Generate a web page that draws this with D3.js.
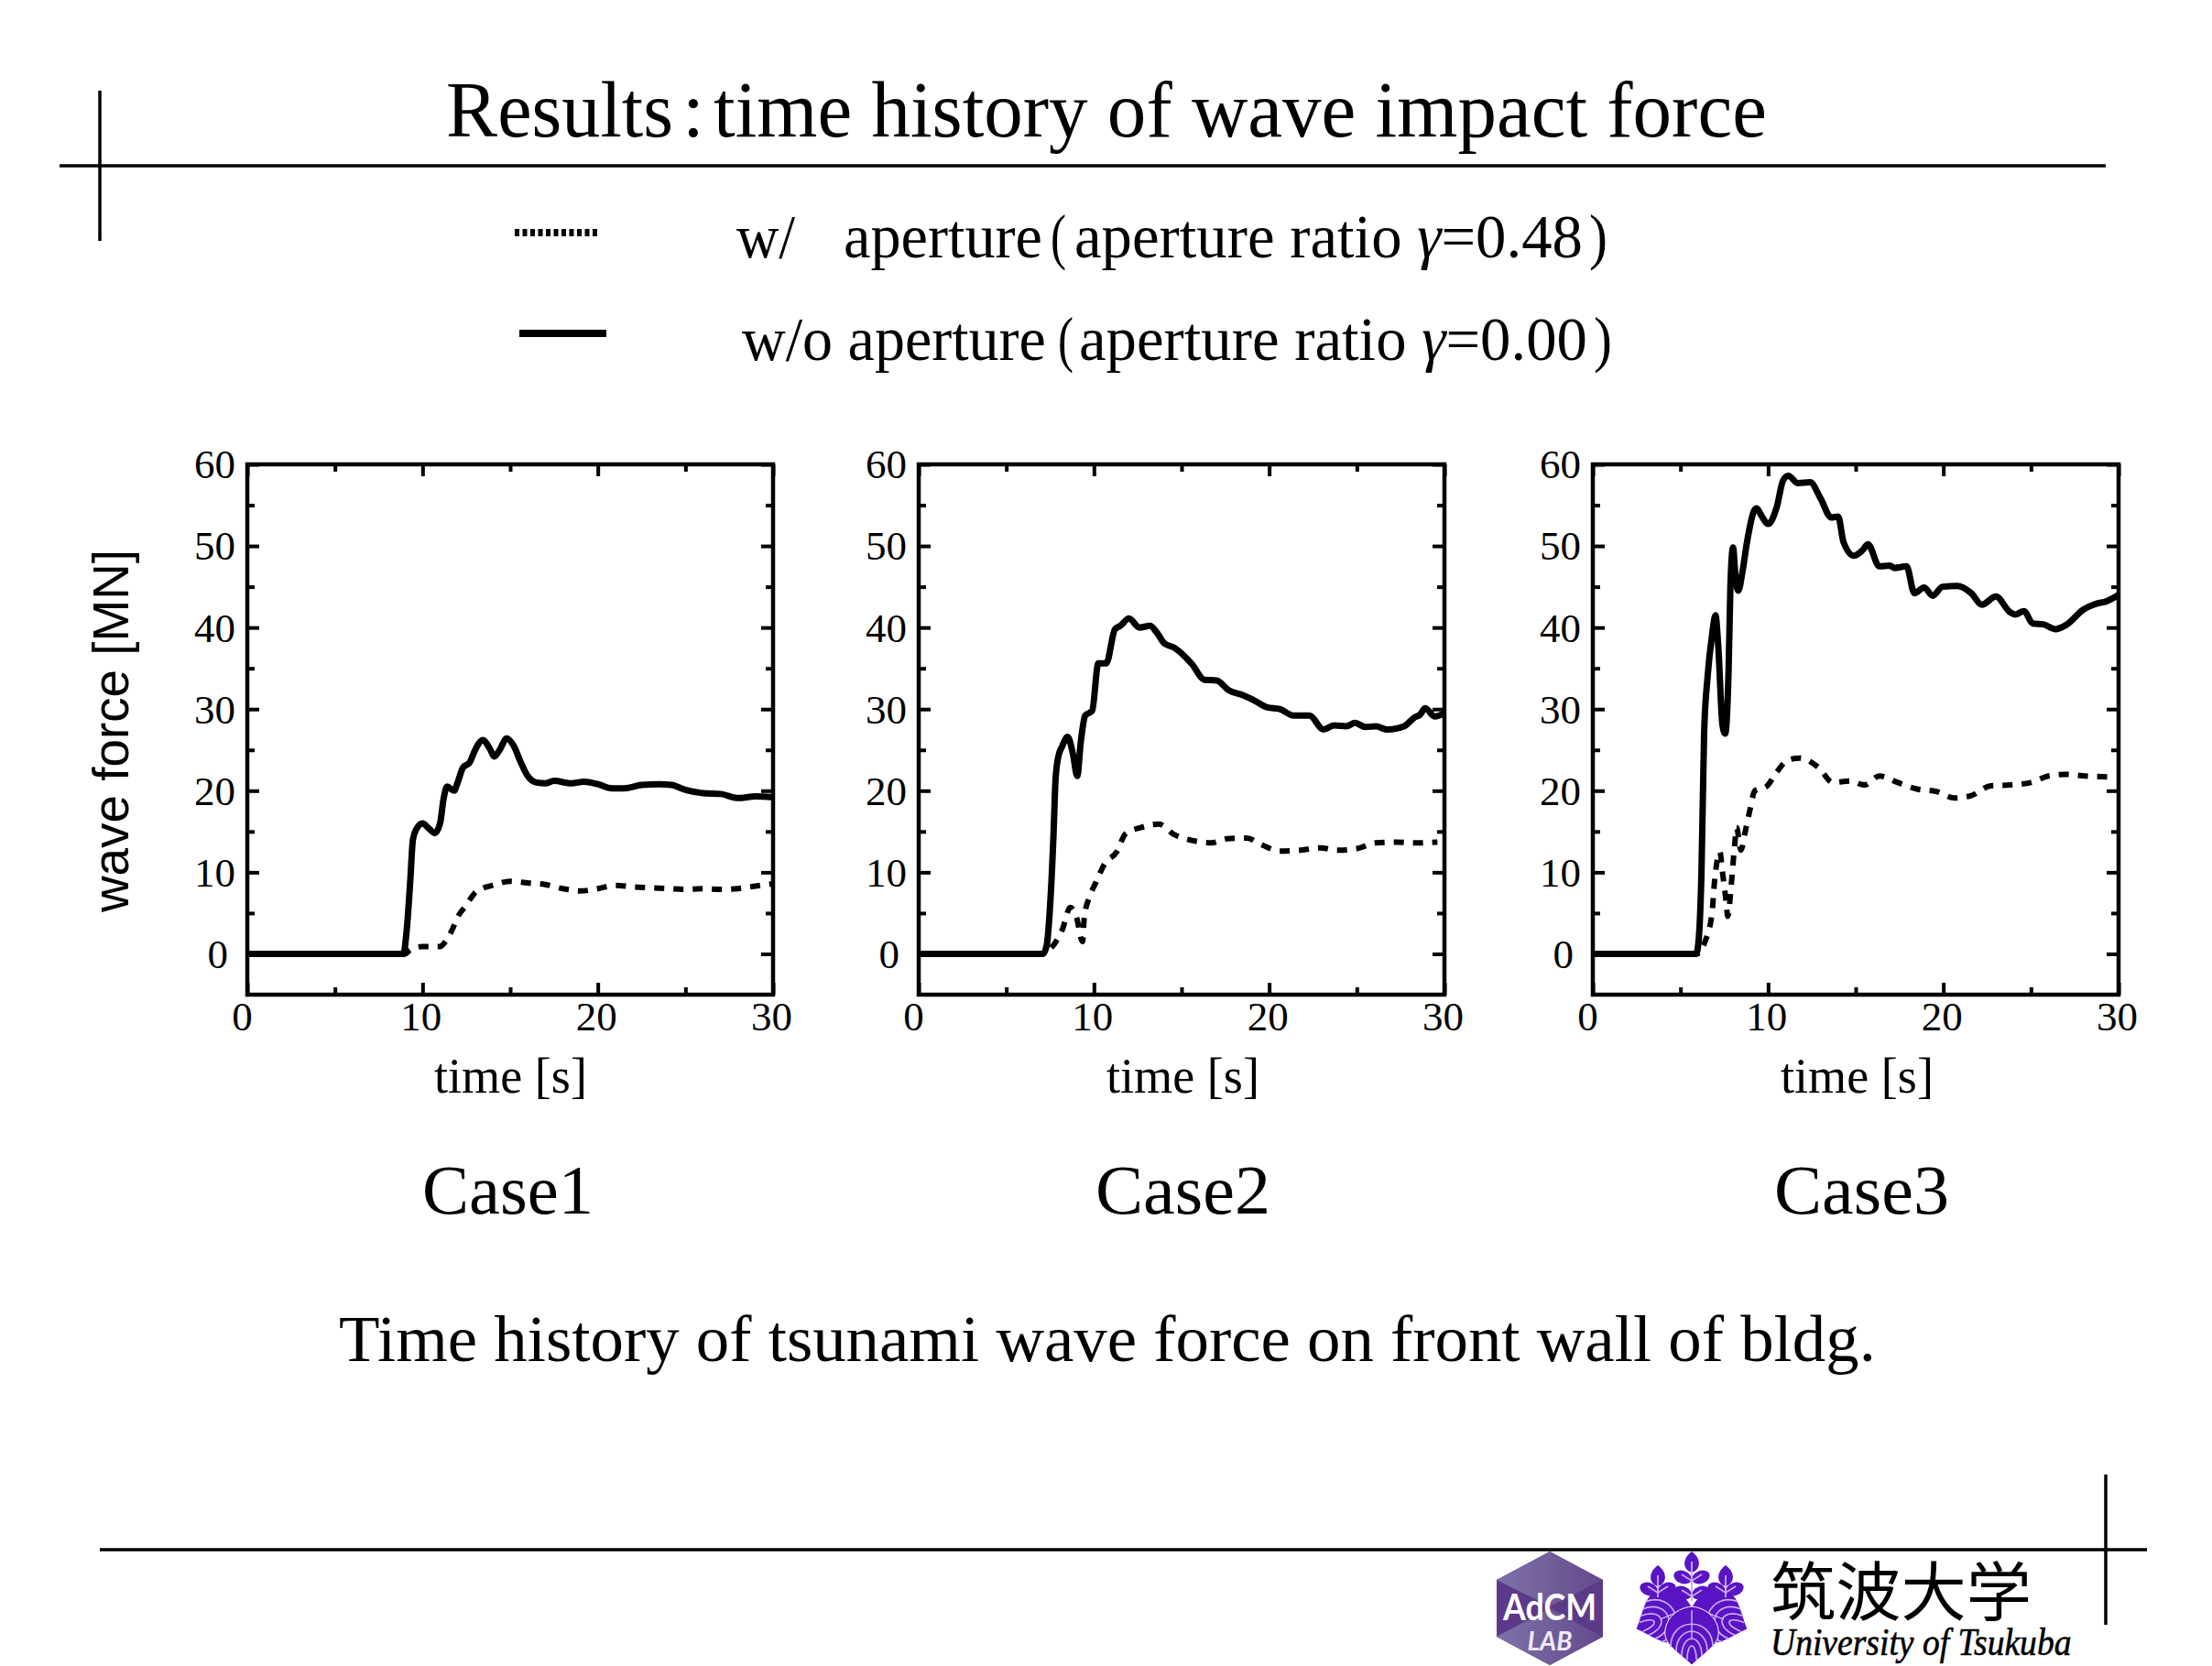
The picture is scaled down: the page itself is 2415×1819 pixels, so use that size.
<!DOCTYPE html>
<html><head><meta charset="utf-8">
<script src="https://cdn.jsdelivr.net/npm/d3@7/dist/d3.min.js"></script>
<style>html,body{margin:0;background:#fff}svg{display:block}</style>
</head><body><svg id="c" width="2415" height="1819"></svg>
<script>
const captionText = "Time history of tsunami wave force on front wall of bldg.";
const yLabel = "wave force [MN]";
const xLabel = "time [s]";
const caseNames = ["Case1","Case2","Case3"];
const xMajor = [0,10,20,30], xMinor = [5,15,25];
const yMajor = [0,10,20,30,40,50,60], yMinor = [5,15,25,35,45,55];

const case1Solid = [[0,0],[8.9,0],[9.1,3],[9.3,9],[9.45,14],[9.65,15.3],[10,16],[10.3,15.5],[10.7,14.8],[11,16],[11.2,19],[11.4,20.5],[11.8,20],[12,21],[12.3,22.8],[12.7,23.5],[13,25],[13.45,26.2],[13.8,25.3],[14.1,24.2],[14.4,25],[14.8,26.4],[15.2,25.5],[15.6,23.5],[16,21.8],[16.5,21],[17,20.9],[17.5,21.2],[18.5,20.9],[19.2,21.1],[20,20.8],[20.8,20.3],[21.5,20.3],[22.5,20.7],[23.5,20.8],[24.2,20.7],[25,20.1],[26,19.7],[27,19.6],[28,19.1],[29,19.3],[30,19.2]];
const case1Dashed = [[0,0],[9,0],[9.3,0.5],[10,0.9],[11,0.9],[11.3,1.5],[11.7,3],[12,4.5],[12.5,6],[13,7.5],[13.5,8.1],[14,8.4],[15,8.9],[16,8.7],[17,8.5],[18,8],[19,7.7],[20,8],[21,8.4],[22,8.2],[23,8.1],[24,8],[25,7.9],[26,8],[27,7.9],[28,8],[29,8.3],[30,8.6]];
const case2Solid = [[0,0],[7.1,0],[7.3,1],[7.5,6],[7.7,15],[7.8,21],[7.95,24],[8.2,25.5],[8.5,26.6],[8.8,24.5],[9.05,21.8],[9.25,26],[9.5,29.2],[9.9,29.8],[10.25,35.6],[10.7,35.6],[11.2,39.8],[11.5,40.2],[12,41.1],[12.6,40],[13.2,40.2],[13.55,39.5],[14,38.1],[14.6,37.5],[15.6,35.5],[16.3,33.6],[17,33.5],[17.7,32.3],[18.5,31.7],[19.2,31],[19.9,30.2],[20.6,30],[21.4,29.2],[22.3,29.2],[23.1,27.5],[23.7,28],[24.4,27.9],[24.9,28.3],[25.5,27.8],[26.1,27.9],[26.7,27.5],[27.7,27.9],[28.3,29],[28.6,29.3],[28.9,30.1],[29.45,29.1],[30,29.5]];
const case2Dashed = [[0,0],[7,0],[7.5,0.6],[8.2,3],[8.65,5.7],[9,4.5],[9.35,1.5],[9.45,4.5],[9.75,7],[10.1,8.7],[10.6,11],[11.3,12.5],[11.8,14.7],[12.7,15.5],[13.7,15.9],[14.6,14.6],[15.6,13.9],[16.7,13.6],[17.6,14.1],[18.7,14.2],[19.65,13.3],[20.6,12.6],[21.8,12.7],[22.9,13],[23.9,12.7],[25,12.9],[26.1,13.6],[27.2,13.7],[28.3,13.6],[29.6,13.7]];
const case3Solid = [[0,0],[5.9,0],[6.05,2],[6.2,10],[6.35,27],[6.55,34],[6.8,39],[7,41.5],[7.15,38],[7.4,28],[7.55,27],[7.75,35],[7.85,45],[8,49.8],[8.15,46],[8.3,44.5],[8.55,47],[8.8,50.5],[9.2,54.3],[9.35,54.6],[9.65,53.6],[10,52.7],[10.5,54.8],[10.85,58],[11.15,58.6],[11.7,57.7],[12.4,57.8],[13,55.8],[13.6,53.5],[14,53.6],[14.3,50.5],[14.9,48.8],[15.4,49.5],[15.7,50.2],[16.35,47.5],[16.95,47.6],[17.2,47.3],[17.9,47.5],[18.35,44.2],[18.9,44.9],[19.4,43.9],[19.95,45],[20.8,45.1],[21.6,44.2],[22.2,42.8],[23,43.8],[23.8,41.9],[24.1,41.6],[24.6,42],[25.1,40.5],[25.7,40.4],[26.4,39.8],[27,40.3],[28,42.2],[28.7,42.9],[29.3,43.2],[30,44]];
const case3Dashed = [[0,0],[5.95,0],[6.4,1.5],[6.8,5],[6.95,9],[7.1,11.5],[7.25,12.5],[7.4,10],[7.6,6.5],[7.7,4.6],[7.9,8.5],[8.1,13.5],[8.2,15.5],[8.45,12.7],[8.7,15],[8.95,17.5],[9.25,20],[9.9,20.5],[10.5,22.3],[11.1,23.7],[11.8,24],[12.9,22.8],[13.7,21],[14.7,21.2],[15.5,20.7],[16.35,21.8],[17.4,21],[18.5,20.2],[19.6,19.9],[20.65,19.1],[21.6,19.4],[22.7,20.6],[23.8,20.7],[25,21],[26,21.8],[27,22],[28.1,21.8],[29.4,21.7]];
const solidSeries = [case1Solid, case2Solid, case3Solid];
const dashedSeries = [case1Dashed, case2Dashed, case3Dashed];

const svg = d3.select("#c");
const SERIF = "'Liberation Serif','Times New Roman',serif";
const panelLeft = [270, 1003, 1739], panelW = 574, panelTop = 507, panelBottom = 1086;

function fit(parts, x0, x1, base, size, fam){
  const t = svg.append("text").attr("font-family", fam||SERIF).attr("font-size", size).attr("fill","#000").style("white-space","pre");
  parts.forEach(p => t.append("tspan").attr("font-style", p.i ? "italic" : null).text(p.t));
  const w = t.node().getComputedTextLength();
  t.attr("transform", `translate(${x0},${base}) scale(${(x1-x0)/w},1)`);
  return t;
}
const rule = (x1,y1,x2,y2,w=3.5) => svg.append("line").attr("x1",x1).attr("y1",y1).attr("x2",x2).attr("y2",y2).attr("stroke","#000").attr("stroke-width",w);

rule(65,181,2299,181); rule(109,99,109,263); rule(109,1692,2344,1692); rule(2299,1610,2299,1774);

// title
fit([{t:"Results"}], 487, 735, 149, 86);
fit([{t:":"}], 745, 769, 149, 86);
fit([{t:"time history of wave impact force"}], 779, 1929, 149, 86);
// legend
fit([{t:"w/"}], 804, 868, 281, 68);
fit([{t:"aperture"}], 921, 1138, 281, 68);
fit([{t:"("}], 1147, 1164, 281, 68);
fit([{t:"aperture ratio "},{t:"γ",i:1},{t:"=0.48"}], 1173, 1728, 281, 68);
fit([{t:")"}], 1735, 1755, 281, 68);
fit([{t:"w/o aperture"}], 810, 1142, 393, 68);
fit([{t:"("}], 1155, 1172, 393, 68);
fit([{t:"aperture ratio "},{t:"γ",i:1},{t:"=0.00"}], 1178, 1733, 393, 68);
fit([{t:")"}], 1740, 1760, 393, 68);
svg.append("line").attr("x1",562).attr("x2",655).attr("y1",254).attr("y2",254).attr("stroke","#000").attr("stroke-width",8).attr("stroke-dasharray","5 3.5");
svg.append("line").attr("x1",567).attr("x2",662).attr("y1",364).attr("y2",364).attr("stroke","#000").attr("stroke-width",8);

const x = d3.scaleLinear().domain([0,30]).range([0,panelW]);
const y = d3.scaleLinear().domain([-5,60]).range([panelBottom-panelTop,0]);
const line = d3.line().x(d=>x(d[0])).y(d=>y(d[1])).curve(d3.curveMonotoneX);
const H = panelBottom-panelTop;

caseNames.forEach((name,i)=>{
  const g = svg.append("g").attr("transform",`translate(${panelLeft[i]},${panelTop})`);
  const tickStyle = a => a.call(s=>s.select(".domain").remove()).call(s=>s.selectAll("line").attr("stroke","#000").attr("stroke-width",4));
  g.append("g").attr("transform",`translate(0,${H})`).call(d3.axisBottom(x).tickValues(xMajor).tickSize(-13).tickFormat("")).call(tickStyle);
  g.append("g").attr("transform",`translate(0,${H})`).call(d3.axisBottom(x).tickValues(xMinor).tickSize(-8).tickFormat("")).call(tickStyle);
  g.append("g").call(d3.axisTop(x).tickValues(xMajor).tickSize(-13).tickFormat("")).call(tickStyle);
  g.append("g").call(d3.axisTop(x).tickValues(xMinor).tickSize(-8).tickFormat("")).call(tickStyle);
  g.append("g").call(d3.axisLeft(y).tickValues(yMajor).tickSize(-13).tickFormat("")).call(tickStyle);
  g.append("g").call(d3.axisLeft(y).tickValues(yMinor).tickSize(-8).tickFormat("")).call(tickStyle);
  g.append("g").attr("transform",`translate(${panelW},0)`).call(d3.axisRight(y).tickValues(yMajor).tickSize(-13).tickFormat("")).call(tickStyle);
  g.append("g").attr("transform",`translate(${panelW},0)`).call(d3.axisRight(y).tickValues(yMinor).tickSize(-8).tickFormat("")).call(tickStyle);
  g.append("rect").attr("width",panelW).attr("height",H).attr("fill","none").attr("stroke","#000").attr("stroke-width",4.5);

  const xl = g.append("g").attr("transform",`translate(0,${H})`).call(d3.axisBottom(x).tickValues(xMajor).tickSize(0).tickPadding(7));
  xl.select(".domain").remove();
  xl.attr("font-family",SERIF).attr("font-size",45);
  xl.selectAll("text").attr("dx",d=>d===0?-6:-2);
  const yl = g.append("g").call(d3.axisLeft(y).tickValues(yMajor).tickSize(0).tickPadding(13));
  yl.select(".domain").remove();
  yl.attr("font-family",SERIF).attr("font-size",45);
  yl.selectAll("text").attr("dx",d=>d===0?-8:0).attr("dy","0.33em");

  g.append("path").attr("d",line(dashedSeries[i])).attr("fill","none").attr("stroke","#000").attr("stroke-width",6).attr("stroke-dasharray","11 10");
  g.append("path").attr("d",line(solidSeries[i])).attr("fill","none").attr("stroke","#000").attr("stroke-width",7).attr("stroke-linejoin","round");

  const lx = [474,1208,1944][i];
  fit([{t:xLabel}], lx, lx+167, 1193, 55);
  const cx = [[461,648],[1196,1387],[1937,2128]][i];
  fit([{t:name}], cx[0], cx[1], 1325, 76);
});

svg.append("text").attr("transform","translate(140,798) rotate(-90)").attr("text-anchor","middle").attr("fill","#000").attr("font-family","'Liberation Sans',Arial,sans-serif").attr("font-size",56).attr("textLength",396).attr("lengthAdjust","spacingAndGlyphs").text(yLabel);
fit([{t:captionText}], 370, 2048, 1486, 72);

// AdCM LAB badge
(function(){
  const g = svg.append("g").attr("transform","translate(1692,1756)");
  const defs = svg.append("defs");
  const gr = defs.append("linearGradient").attr("id","hx");
  gr.append("stop").attr("offset",0).attr("stop-color","#7f72a8");
  gr.append("stop").attr("offset",1).attr("stop-color","#63498c");
  g.append("path").attr("d","M0,-62L58,-31L58,31L0,62L-58,31L-58,-31Z").attr("fill","#5b3b87");
  g.append("path").attr("d","M0,-62L58,-31L0,-2L-58,-31Z").attr("fill","url(#hx)");
  g.append("path").attr("d","M-58,31L0,0L58,31L0,62Z").attr("fill","url(#hx)");
  g.append("text").attr("text-anchor","middle").attr("y",13).attr("font-family","Lato,'Open Sans',sans-serif").attr("font-weight",700).attr("font-size",40).attr("fill","#fff").attr("textLength",102).attr("lengthAdjust","spacingAndGlyphs").text("AdCM");
  g.append("text").attr("text-anchor","middle").attr("y",46).attr("font-family","Lato,'Open Sans',sans-serif").attr("font-weight",700).attr("font-style","italic").attr("font-size",28).attr("fill","#efeaf6").text("LAB");
})();

// University emblem
(function(){
  const col = "#5a14c4", vein = "#c9aef2";
  const g = svg.append("g").attr("transform","translate(1847,1754)");
  const leaf = (rot,k) => {
    const l = g.append("g").attr("transform",`rotate(${rot}) scale(${k})`);
    l.append("path").attr("d","M0,0C-20,2 -31,18 -29,32C-27,44 -12,52 0,64C12,52 27,44 29,32C31,18 20,2 0,0Z").attr("fill",col).attr("stroke","#fff").attr("stroke-width",1);
    [[23,11,44],[17,20,49],[11,29,54],[5,38,58]].forEach(([w,top,foot])=>
      l.append("path").attr("d",`M${-w},${foot}C${-w},${top} ${w},${top} ${w},${foot}`).attr("fill","none").attr("stroke",vein).attr("stroke-width",1.6));
    l.append("line").attr("y1",4).attr("y2",36).attr("stroke",vein).attr("stroke-width",1.5);
  };
  leaf(68,1.03); leaf(-68,1.03); leaf(0,1);
  const sprig = (cx,topY,pairs) => {
    g.append("path").attr("d",`M${cx},${topY-11}C${cx+11},${topY-3} ${cx+10},${topY+9} ${cx},${topY+12}C${cx-10},${topY+9} ${cx-11},${topY-3} ${cx},${topY-11}Z`).attr("fill",col);
    pairs.forEach(py=>{
      [-1,1].forEach(s=>g.append("ellipse").attr("cx",cx+s*10).attr("cy",py).attr("rx",10).attr("ry",7).attr("transform",`rotate(${s*-20} ${cx+s*10} ${py})`).attr("fill",col));
      [-1,1].forEach(s=>g.append("line").attr("x1",cx).attr("x2",cx+s*11).attr("y1",py+4).attr("y2",py-3).attr("stroke",vein).attr("stroke-width",1.5));
    });
    g.append("line").attr("x1",cx).attr("x2",cx).attr("y1",topY).attr("y2",pairs[pairs.length-1]+9).attr("stroke",vein).attr("stroke-width",1.8);
  };
  sprig(0,-49,[-32,-15]); sprig(-37,-34,[-19]); sprig(37,-34,[-19]);
})();
fit([{t:"筑波大学"}], 1933, 2218, 1764, 70, "'Noto Sans CJK JP',sans-serif");
fit([{t:"University of Tsukuba"}], 1933, 2268, 1807, 43).attr("font-style","italic").attr("stroke","#000").attr("stroke-width",0.6);
</script></body></html>
